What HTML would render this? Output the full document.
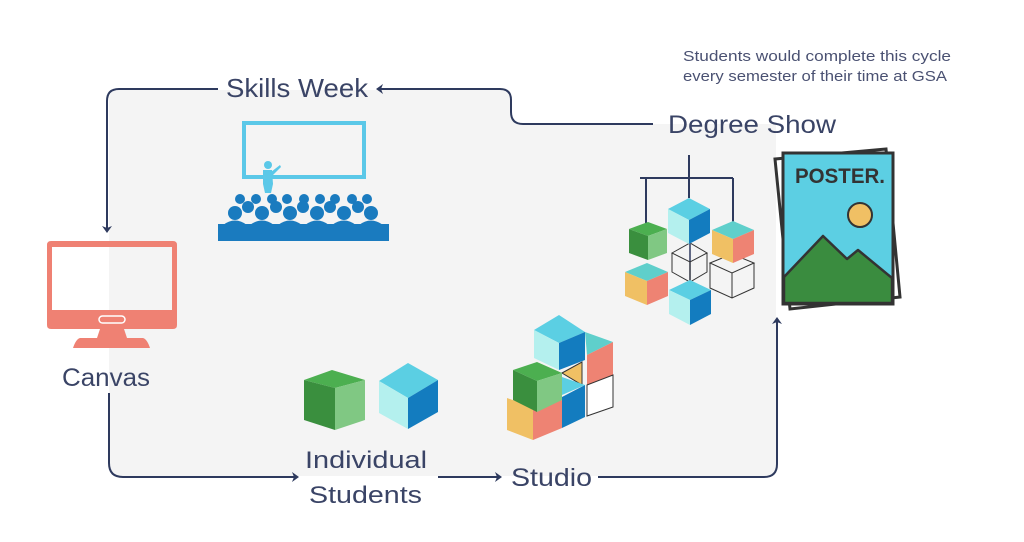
<!DOCTYPE html>
<html><head><meta charset="utf-8"><style>
html,body{margin:0;padding:0;background:#fff;}
svg{display:block;}
text{font-family:"Liberation Sans",sans-serif;fill:#3a4466;}
</style></head><body>
<svg width="1024" height="542" viewBox="0 0 1024 542" xmlns="http://www.w3.org/2000/svg">
<!-- gray background region -->
<path d="M109,100 Q109,90 119,90 L503,90 Q511,90 511,100 L511,113 Q511,124 523,124 L776,124 L776,466 Q776,476 766,476 L119,476 Q109,476 109,466 Z" fill="#f4f4f4"/>

<!-- connectors -->
<g fill="none" stroke="#2e3a5e" stroke-width="2">
  <path d="M218,89 L119,89 Q107,89 107,101 L107,228"/>
  <path d="M378,89 L500,89 Q511,89 511,100 L511,112 Q511,124 523,124 L653,124"/>
  <path d="M109,393 L109,463 Q109,477 123,477 L296,477"/>
  <path d="M438,477 L499,477"/>
  <path d="M598,477 L764,477 Q777,477 777,464 L777,320"/>
  <!-- mobile strings -->
  <path d="M689,155 L689,198 M640,178 L733,178 M646,178 L646,223 M733,178 L733,222"/>
</g>
<path d="M690,244 L690,282" stroke="#2e3a5e" stroke-width="1.5"/>
<g fill="#2e3a5e">
  <path d="M102,226 L107,233 L112,226 L107,228 Z"/>
  <path d="M383,84 L376,89 L383,94 L381,89 Z"/>
  <path d="M292,472 L299,477 L292,482 L294,477 Z"/>
  <path d="M495,472 L502,477 L495,482 L497,477 Z"/>
  <path d="M772,324 L777,317 L782,324 L777,322 Z"/>
</g>

<!-- texts -->
<text x="226" y="97" font-size="26" textLength="142" lengthAdjust="spacingAndGlyphs">Skills Week</text>
<text x="668" y="133" font-size="25" textLength="168" lengthAdjust="spacingAndGlyphs">Degree Show</text>
<text x="62" y="386" font-size="25" textLength="88" lengthAdjust="spacingAndGlyphs">Canvas</text>
<text x="305" y="468" font-size="24" textLength="122" lengthAdjust="spacingAndGlyphs">Individual</text>
<text x="309" y="503" font-size="24" textLength="113" lengthAdjust="spacingAndGlyphs">Students</text>
<text x="511" y="486" font-size="25" textLength="81" lengthAdjust="spacingAndGlyphs">Studio</text>
<text x="683" y="61" font-size="15" textLength="268" lengthAdjust="spacingAndGlyphs" style="fill:#4a5172">Students would complete this cycle</text>
<text x="683" y="81" font-size="15" textLength="264" lengthAdjust="spacingAndGlyphs" style="fill:#4a5172">every semester of their time at GSA</text>

<!-- lecture -->
<rect x="244" y="123" width="120" height="54" fill="none" stroke="#5bc8e8" stroke-width="4"/>
<g fill="#5bc8e8">
  <circle cx="268" cy="165" r="4"/>
  <path d="M263,170 L272,170 L273,184 L271,193 L265,193 L263,184 Z"/>
  <path d="M271,172 L280,165 L281,167 L272,176 Z"/>
</g>
<g fill="#1a7bbf">
  <circle cx="240" cy="199" r="5"/><circle cx="256" cy="199" r="5"/><circle cx="272" cy="199" r="5"/><circle cx="287" cy="199" r="5"/><circle cx="304" cy="199" r="5"/><circle cx="320" cy="199" r="5"/><circle cx="335" cy="199" r="5"/><circle cx="352" cy="199" r="5"/><circle cx="367" cy="199" r="5"/>
  <circle cx="248" cy="207" r="6"/><circle cx="276" cy="207" r="6"/><circle cx="303" cy="207" r="6"/><circle cx="330" cy="207" r="6"/><circle cx="358" cy="207" r="6"/>
  <circle cx="235" cy="213" r="7"/><circle cx="262" cy="213" r="7"/><circle cx="290" cy="213" r="7"/><circle cx="317" cy="213" r="7"/><circle cx="344" cy="213" r="7"/><circle cx="371" cy="213" r="7"/>
  <path d="M223,225 Q235,216 247,225 Z M250,225 Q262,216 274,225 Z M278,225 Q290,216 302,225 Z M305,225 Q317,216 329,225 Z M332,225 Q344,216 356,225 Z M359,225 Q371,216 383,225 Z"/>
  <rect x="218" y="224" width="171" height="17"/>
</g>

<!-- monitor -->
<g fill="#ef8173">
  <path fill-rule="evenodd" d="M51,241 L173,241 Q177,241 177,245 L177,325 Q177,329 173,329 L51,329 Q47,329 47,325 L47,245 Q47,241 51,241 Z M52,247 L52,310 L172,310 L172,247 Z"/>
  <path d="M100,329 L124,329 L127,338 L97,338 Z"/>
  <path d="M80,338 L143,338 Q147,339 150,348 L73,348 Q76,339 80,338 Z"/>
</g>
<rect x="99" y="316" width="26" height="7" rx="3.5" fill="none" stroke="#fff" stroke-width="1.5"/>

<!-- individual cubes -->
<polygon points="304,380 332,370 365,380 335,388" fill="#4caf50"/>
<polygon points="304,380 335,388 335,430 304,420" fill="#3a8f3e"/>
<polygon points="335,388 365,380 365,420 335,430" fill="#80c883"/>
<polygon points="379,381 408,363 438,380 408,398" fill="#5bcfe3"/>
<polygon points="379,381 408,398 408,429 379,413" fill="#b4f0ee"/>
<polygon points="408,398 438,380 438,412 408,429" fill="#137cbf"/>

<!-- studio stack -->
<polygon points="585,332 613,342 587,355" fill="#5fcfcb"/>
<polygon points="587,355 613,342 613,375 587,385" fill="#ee8373"/>
<polygon points="587,385 613,375 613,407 587,416" fill="#fff" stroke="#333" stroke-width="1"/>
<polygon points="534,330 559,315 585,332 559,343" fill="#5bcfe3"/>
<polygon points="534,330 559,343 559,370 534,358" fill="#b4f0ee"/>
<polygon points="559,343 585,332 585,360 559,370" fill="#137cbf"/>
<polygon points="562,373 582,362 582,385" fill="#f0c064" stroke="#333" stroke-width="1"/>
<polygon points="562,377 585,385 562,395" fill="#5bcfe3"/>
<polygon points="562,397 585,385 585,417 562,428" fill="#137cbf"/>
<polygon points="507,398 533,407 533,440 507,430" fill="#f0c064"/>
<polygon points="533,407 562,400 562,428 533,440" fill="#ee8373"/>
<polygon points="513,370 537,362 562,373 537,381" fill="#4caf50"/>
<polygon points="513,370 537,381 537,412 513,400" fill="#3a8f3e"/>
<polygon points="537,381 562,373 562,400 537,412" fill="#80c883"/>

<!-- mobile cubes -->
<g fill="none" stroke="#333" stroke-width="1">
  <polygon points="672,253 690,243 707,253 690,262"/>
  <path d="M672,253 L672,272 L690,282 L707,272 L707,253 M690,262 L690,282"/>
  <polygon points="710,263 732,254 754,263 732,273"/>
  <path d="M710,263 L710,288 L732,298 L754,288 L754,263 M732,273 L732,298"/>
</g>
<polygon points="629,229 648,222 667,229 648,236" fill="#4caf50"/>
<polygon points="629,229 648,236 648,260 629,253" fill="#3a8f3e"/>
<polygon points="648,236 667,229 667,253 648,260" fill="#80c883"/>
<polygon points="668,209 689,198 710,209 689,220" fill="#5bcfe3"/>
<polygon points="668,209 689,220 689,244 668,233" fill="#b4f0ee"/>
<polygon points="689,220 710,209 710,233 689,244" fill="#137cbf"/>
<polygon points="712,230 733,221 754,230 733,239" fill="#5fcfcb"/>
<polygon points="712,230 733,239 733,263 712,254" fill="#f0c064"/>
<polygon points="733,239 754,230 754,254 733,263" fill="#ee8373"/>
<polygon points="625,272 647,263 668,272 647,281" fill="#5fcfcb"/>
<polygon points="625,272 647,281 647,305 625,296" fill="#f0c064"/>
<polygon points="647,281 668,272 668,296 647,305" fill="#ee8373"/>
<polygon points="669,290 690,280 711,290 690,300" fill="#5bcfe3"/>
<polygon points="669,290 690,300 690,325 669,314" fill="#b4f0ee"/>
<polygon points="690,300 711,290 711,314 690,325" fill="#137cbf"/>

<!-- poster -->
<polygon points="775,159 886,149 900,297 790,309" fill="#fff" stroke="#333" stroke-width="3"/>
<rect x="783" y="153" width="110" height="151" fill="#5ccfe3" stroke="#333" stroke-width="3"/>
<path d="M784,277 L823,236 L847,259 L858,250 L892,278 L892,303 L784,303 Z" fill="#3a8c3f" stroke="#333" stroke-width="2.5" stroke-linejoin="round"/>
<circle cx="860" cy="215" r="12" fill="#f0c064" stroke="#333" stroke-width="2"/>
<text x="795" y="183" font-size="21" font-weight="bold" textLength="90" lengthAdjust="spacingAndGlyphs" style="fill:#333">POSTER.</text>
</svg>
</body></html>
